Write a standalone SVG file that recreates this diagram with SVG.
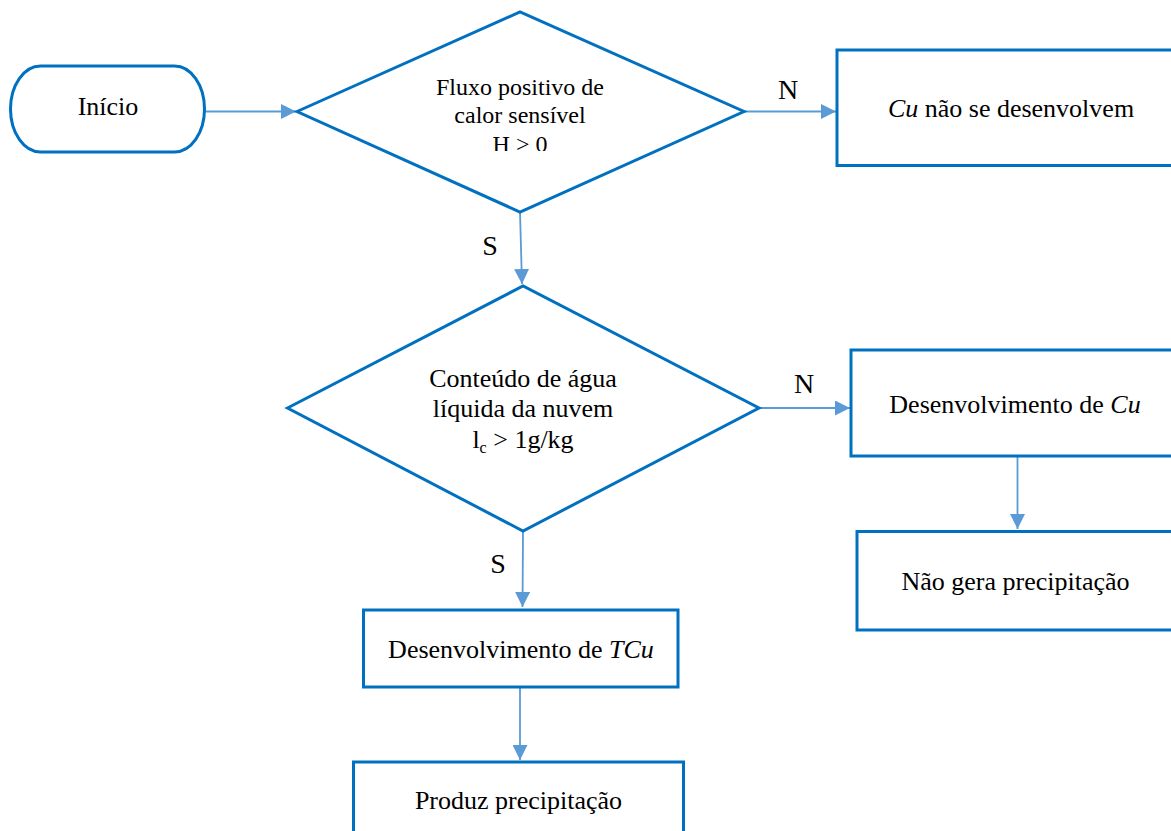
<svg xmlns="http://www.w3.org/2000/svg" width="1171" height="831" viewBox="0 0 1171 831">
<defs>
<style>
.node{fill:#fff;stroke:#0070C0;stroke-width:3}
.conn{fill:none;stroke:#5B9BD5;stroke-width:1.8}
text{font-family:'Liberation Serif',serif;fill:#000;text-anchor:middle}
.t{font-size:26px}
.dt{font-size:24px}
.lbl{font-size:28px}
</style>
<marker id="arr" viewBox="0 0 10 10" refX="10" refY="5" markerWidth="15" markerHeight="15" markerUnits="userSpaceOnUse" orient="auto">
<path d="M0,0 L10,5 L0,10 Z" fill="#5B9BD5"/>
</marker>
<clipPath id="clipD1"><rect x="380" y="60" width="280" height="91"/></clipPath>
</defs>
<rect width="1171" height="831" fill="#fff"/>
<g id="connectors">
<line class="conn" x1="205" y1="111.5" x2="296" y2="111.5" marker-end="url(#arr)"/>
<line class="conn" x1="744" y1="111.5" x2="836" y2="111.5" marker-end="url(#arr)"/>
<line class="conn" x1="520" y1="212" x2="522" y2="284" marker-end="url(#arr)"/>
<line class="conn" x1="759" y1="408" x2="850" y2="408" marker-end="url(#arr)"/>
<line class="conn" x1="1017.5" y1="456" x2="1017.5" y2="529" marker-end="url(#arr)"/>
<line class="conn" x1="523" y1="532" x2="522.5" y2="607" marker-end="url(#arr)"/>
<line class="conn" x1="520" y1="687" x2="520" y2="760" marker-end="url(#arr)"/>
<text class="lbl" x="788" y="99" font-family="Liberation Serif">N</text>
<text class="lbl" x="490" y="255" font-family="Liberation Serif">S</text>
<text class="lbl" x="804" y="393" font-family="Liberation Serif">N</text>
<text class="lbl" x="498" y="573" font-family="Liberation Serif">S</text>
</g>
<g id="start">
<rect class="node" x="10.5" y="66" width="194" height="86" rx="30" ry="43"/>
<text class="t" x="108" y="115" font-family="Liberation Serif">Início</text>
</g>
<g id="decision1">
<polygon class="node" points="297,111.5 520,12 744,111.5 520,212"/>
<g clip-path="url(#clipD1)">
<text class="dt" x="520" y="95" font-family="Liberation Serif">Fluxo positivo de</text>
<text class="dt" x="520" y="123" font-family="Liberation Serif">calor sensível</text>
<text class="dt" x="520" y="152" font-family="Liberation Serif">H &gt; 0</text>
</g>
</g>
<g id="box-cu-nao">
<rect class="node" x="837" y="50" width="345" height="115.5"/>
<text class="t" x="1011" y="117" font-family="Liberation Serif"><tspan font-style="italic">Cu</tspan> não se desenvolvem</text>
</g>
<g id="decision2">
<polygon class="node" points="287.5,408 523,286 759,408 523,531"/>
<text class="t" x="523" y="387" font-family="Liberation Serif">Conteúdo de água</text>
<text class="t" x="523" y="417" font-family="Liberation Serif">líquida da nuvem</text>
<text class="t" x="523" y="448" font-family="Liberation Serif">l<tspan font-size="16" dy="5">c</tspan><tspan dy="-5"> &gt; 1g/kg</tspan></text>
</g>
<g id="box-dev-cu">
<rect class="node" x="851" y="350" width="330" height="106"/>
<text class="t" x="1015" y="413" font-family="Liberation Serif">Desenvolvimento de <tspan font-style="italic">Cu</tspan></text>
</g>
<g id="box-nao-gera">
<rect class="node" x="857" y="531.5" width="325" height="98.5"/>
<text class="t" x="1015.5" y="590" font-family="Liberation Serif">Não gera precipitação</text>
</g>
<g id="box-dev-tcu">
<rect class="node" x="363.5" y="610" width="314.5" height="77"/>
<text class="t" x="521" y="658" font-family="Liberation Serif">Desenvolvimento de <tspan font-style="italic">TCu</tspan></text>
</g>
<g id="box-produz">
<rect class="node" x="353.5" y="762" width="330" height="80"/>
<text class="t" x="518.5" y="809" font-family="Liberation Serif">Produz precipitação</text>
</g>
</svg>
